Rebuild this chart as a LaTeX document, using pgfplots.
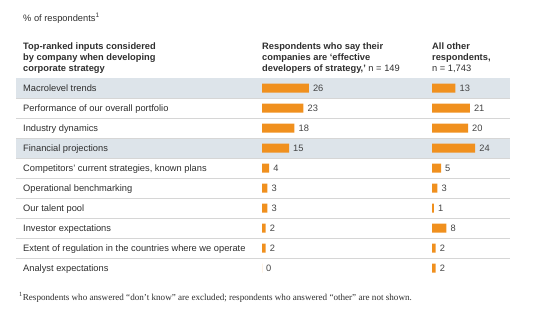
\documentclass[border=0pt]{standalone}
\usepackage{fontspec}
\setmainfont{Liberation Sans}
\newfontfamily\footfont{Liberation Serif}
\usepackage{pgfplots}
\usepackage{pgfplotstable}
\pgfplotsset{compat=1.18}
\definecolor{barorange}{HTML}{F0901E}
\definecolor{rowshade}{HTML}{DDE4EA}
\definecolor{txt}{HTML}{2E2E2E}
\definecolor{rulegray}{HTML}{D6D6D6}
\newcommand\fs{\fontsize{9.3bp}{11bp}\selectfont}

\pgfplotstableread{
row left right
0 26 13
1 23 21
2 18 20
3 15 24
4 4 5
5 3 3
6 3 1
7 2 8
8 2 2
9 0 2
}\datatable

\begin{document}
\begin{tikzpicture}
\useasboundingbox (0,0) rectangle (545bp,-326bp);
% row backgrounds and rules
\fill[rowshade] (16bp,-78bp) rectangle (510bp,-98bp);
\fill[rowshade] (16bp,-138bp) rectangle (510bp,-158bp);
\foreach \yy in {98,118,138,158,178,198,218,238,258}
  \draw[rulegray, line width=0.6bp] (16bp,-\yy bp) -- (510bp,-\yy bp);

% top note
\node[anchor=base west, inner sep=0pt, font=\fs, text=txt] at (23bp,-21bp) {\% of respondents\textsuperscript{1}};

% column headers
\begin{scope}[every node/.style={anchor=base west, inner sep=0pt, font=\fs\bfseries, text=txt}]
\node at (23bp,-49.5bp) {Top-ranked inputs considered};
\node at (23bp,-60.5bp) {by company when developing};
\node at (23bp,-71.5bp) {corporate strategy};
\node at (262bp,-49.5bp) {Respondents who say their};
\node at (262bp,-60.5bp) {companies are ‘effective};
\node at (262bp,-71.5bp) {developers of strategy,’ \mdseries n = 149};
\node at (432bp,-49.5bp) {All other};
\node at (432bp,-60.5bp) {respondents,};
\node at (432bp,-71.5bp) {\mdseries n = 1,743};
\end{scope}

% row labels
\begin{scope}[every node/.style={anchor=base west, inner sep=0pt, font=\fs, text=txt}]
\node at (23bp,-91.3bp) {Macrolevel trends};
\node at (23bp,-111.3bp) {Performance of our overall portfolio};
\node at (23bp,-131.3bp) {Industry dynamics};
\node at (23bp,-151.3bp) {Financial projections};
\node at (23bp,-171.3bp) {Competitors’ current strategies, known plans};
\node at (23bp,-191.3bp) {Operational benchmarking};
\node at (23bp,-211.3bp) {Our talent pool};
\node at (23bp,-231.3bp) {Investor expectations};
\node at (23bp,-251.3bp) {Extent of regulation in the countries where we operate};
\node at (23bp,-271.3bp) {Analyst expectations};
\end{scope}

\pgfplotsset{barcol/.style={
  anchor=north west, hide axis, xbar, scale only axis,
  x=1.8bp, y=20bp, y dir=reverse,
  xmin=0, xmax=30, ymin=-0.5, ymax=9.5, clip=false,
  bar width=9bp,
  /pgf/number format/assume math mode=true,
  nodes near coords,
  nodes near coords style={anchor=west, font=\fs, text=txt!90, inner xsep=0pt, xshift=4bp},
}}

\begin{axis}[barcol, at={(262bp,-78bp)}]
\addplot[fill=barorange, draw=none] table[x=left, y=row]{\datatable};
\end{axis}
\begin{axis}[barcol, at={(432bp,-78bp)}]
\addplot[fill=barorange, draw=none] table[x=right, y=row]{\datatable};
\end{axis}

% footnote
\node[anchor=base west, inner sep=0pt, font=\footfont\fontsize{9.1bp}{10bp}\selectfont, text=txt] at (19bp,-300bp) {\textsuperscript{1}Respondents who answered “don’t know” are excluded; respondents who answered “other” are not shown.};
\end{tikzpicture}
\end{document}
